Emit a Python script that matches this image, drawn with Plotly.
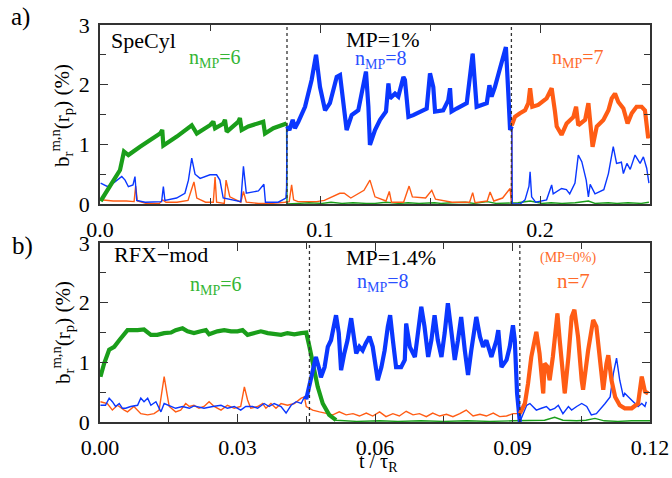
import plotly.graph_objects as go

# ---------------- data: panel a (SpeCyl) ----------------
a_green_p1_t = [0.0003,0.0045,0.0091,0.0109,0.0129,0.0182,0.0273,0.0283,0.0288,0.0349,0.0417,0.0440,0.0500,0.0515,0.0523,0.0561,0.0568,0.0576,0.0629,0.0636,0.0644,0.0674,0.0742,0.0750,0.0788,0.0848]
a_green_p1_v = [0.05,0.29,0.57,0.88,0.82,0.96,1.18,1.24,0.98,1.13,1.32,1.18,1.32,1.38,1.27,1.35,1.41,1.21,1.38,1.44,1.24,1.30,1.38,1.18,1.27,1.35]
a_green_p2_t = [0.0850,0.0900,0.0950,0.1010,0.1050,0.1100,0.1150,0.1210,0.1250,0.1300,0.1360,0.1400,0.1450,0.1520,0.1550,0.1600,0.1660,0.1700,0.1760,0.1800,0.1850,0.1900,0.1955,0.2010,0.2050,0.2100,0.2160,0.2220,0.2250,0.2310,0.2350,0.2400,0.2460,0.2495]
a_green_p2_v = [0.00,0.01,0.02,0.01,0.03,0.01,0.02,0.01,0.01,0.03,0.01,0.02,0.01,0.02,0.01,0.02,0.03,0.01,0.04,0.01,0.02,0.02,0.05,0.01,0.02,0.01,0.02,0.05,0.01,0.02,0.01,0.02,0.01,0.03]

a_blue_p1_t = [0.0003,0.0035,0.0068,0.0099,0.0114,0.0129,0.0150,0.0159,0.0167,0.0205,0.0280,0.0288,0.0295,0.0348,0.0386,0.0402,0.0417,0.0432,0.0455,0.0500,0.0530,0.0545,0.0560,0.0640,0.0652,0.0665,0.0720,0.0745,0.0752,0.0810,0.0845,0.0848]
a_blue_p1_v = [0.35,0.29,0.37,0.46,0.40,0.29,0.32,0.46,0.06,0.03,0.04,0.29,0.06,0.10,0.18,0.40,0.77,0.50,0.43,0.49,0.49,0.40,0.10,0.04,0.63,0.18,0.22,0.33,0.03,0.03,0.10,0.28]
a_blue_p2_t = [0.0850,0.0861,0.0876,0.0886,0.0902,0.0932,0.0962,0.0982,0.1000,0.1023,0.1045,0.1076,0.1091,0.1106,0.1121,0.1144,0.1174,0.1209,0.1220,0.1227,0.1250,0.1273,0.1300,0.1311,0.1318,0.1341,0.1356,0.1379,0.1386,0.1402,0.1424,0.1485,0.1500,0.1515,0.1523,0.1560,0.1583,0.1591,0.1598,0.1621,0.1667,0.1694,0.1712,0.1758,0.1770,0.1780,0.1795,0.1818,0.1845,0.1856,0.1864,0.1872]
a_blue_p2_v = [1.30,1.24,1.41,1.27,1.38,1.63,2.08,2.50,1.96,1.57,1.69,2.13,2.16,1.69,1.24,1.49,1.57,2.22,1.63,0.99,1.24,1.41,1.55,2.02,1.77,1.85,1.80,2.13,2.08,1.46,1.49,1.60,2.19,1.96,1.55,1.57,1.74,1.94,1.55,1.60,1.69,2.52,1.63,1.69,1.99,1.80,1.96,2.27,2.63,1.85,1.24,1.30]
a_blue_p3_t = [0.1874,0.1910,0.1932,0.1950,0.1955,0.1962,0.1980,0.2030,0.2053,0.2060,0.2098,0.2120,0.2135,0.2159,0.2174,0.2190,0.2210,0.2220,0.2228,0.2250,0.2290,0.2311,0.2333,0.2348,0.2370,0.2379,0.2395,0.2410,0.2432,0.2455,0.2470,0.2485,0.2495]
a_blue_p3_v = [0.00,0.00,0.07,0.30,0.54,0.12,0.03,0.07,0.32,0.17,0.26,0.24,0.17,0.35,0.82,0.71,0.40,0.12,0.33,0.17,0.24,0.51,0.96,0.68,0.70,0.51,0.68,0.58,0.82,0.68,0.79,0.60,0.35]

a_orange_p1_t = [0.0003,0.0060,0.0120,0.0155,0.0162,0.0170,0.0210,0.0270,0.0285,0.0300,0.0350,0.0400,0.0427,0.0440,0.0480,0.0515,0.0523,0.0530,0.0565,0.0573,0.0590,0.0640,0.0652,0.0665,0.0720,0.0780,0.0840,0.0860,0.0871,0.0880,0.0900,0.0985,0.1020,0.1090,0.1110,0.1140,0.1200,0.1227,0.1250,0.1300,0.1315,0.1325,0.1380,0.1405,0.1420,0.1480,0.1508,0.1525,0.1600,0.1680,0.1694,0.1705,0.1760,0.1773,0.1790,0.1830,0.1864,0.1870]
a_orange_p1_v = [0.07,0.05,0.05,0.04,0.30,0.05,0.01,0.01,0.07,0.03,0.03,0.06,0.37,0.10,0.03,0.03,0.45,0.03,0.01,0.40,0.12,0.03,0.21,0.03,0.01,0.01,0.03,0.04,0.32,0.07,0.04,0.04,0.06,0.18,0.18,0.10,0.23,0.40,0.12,0.05,0.21,0.03,0.03,0.30,0.12,0.10,0.23,0.08,0.03,0.03,0.19,0.02,0.05,0.20,0.05,0.10,0.26,0.02]
a_orange_p3_t = [0.1872,0.1886,0.1909,0.1932,0.1947,0.1955,0.1965,0.1992,0.2030,0.2053,0.2068,0.2076,0.2098,0.2121,0.2152,0.2164,0.2174,0.2205,0.2220,0.2227,0.2239,0.2258,0.2288,0.2311,0.2326,0.2341,0.2356,0.2379,0.2398,0.2417,0.2439,0.2462,0.2477,0.2492]
a_orange_p3_v = [1.32,1.46,1.52,1.57,1.69,1.94,1.63,1.66,1.77,1.94,1.55,1.30,1.16,1.35,1.46,1.63,1.32,1.41,1.69,1.46,0.96,1.30,1.41,1.57,1.77,1.85,1.71,1.60,1.35,1.52,1.63,1.63,1.57,1.10]

a_phase_bounds = [0.085, 0.187]

# ---------------- data: panel b (RFX-mod) ----------------
b_green_p1_t = [0.0001,0.0009,0.0020,0.0031,0.0042,0.0053,0.0060,0.0082,0.0096,0.0111,0.0125,0.0140,0.0155,0.0165,0.0180,0.0191,0.0205,0.0220,0.0231,0.0238,0.0256,0.0271,0.0286,0.0300,0.0311,0.0322,0.0337,0.0351,0.0366,0.0380,0.0395,0.0409,0.0424,0.0439,0.0450,0.0457,0.0464,0.0475,0.0486,0.0500,0.0515]
b_green_p1_v = [0.76,0.98,1.21,1.26,1.37,1.49,1.54,1.54,1.55,1.46,1.46,1.49,1.50,1.54,1.57,1.52,1.49,1.52,1.54,1.47,1.52,1.54,1.52,1.52,1.54,1.46,1.49,1.52,1.49,1.47,1.46,1.49,1.47,1.49,1.50,1.26,0.98,0.59,0.31,0.12,0.03]
b_green_p2_t = [0.0515,0.0560,0.0610,0.0650,0.0700,0.0750,0.0800,0.0850,0.0900,0.0940,0.0970,0.0992,0.1010,0.1040,0.1060,0.1080,0.1100,0.1130,0.1160,0.1200]
b_green_p2_v = [0.03,0.01,0.02,0.01,0.02,0.01,0.02,0.01,0.02,0.02,0.03,0.08,0.03,0.02,0.03,0.06,0.02,0.01,0.02,0.02]

b_blue_p1_t = [0.0001,0.0012,0.0020,0.0027,0.0034,0.0042,0.0049,0.0056,0.0067,0.0082,0.0089,0.0096,0.0104,0.0111,0.0122,0.0133,0.0140,0.0151,0.0165,0.0180,0.0195,0.0205,0.0227,0.0246,0.0264,0.0278,0.0293,0.0307,0.0318,0.0333,0.0344,0.0358,0.0369,0.0380,0.0395,0.0406,0.0417,0.0428,0.0439,0.0446]
b_blue_p1_v = [0.28,0.28,0.40,0.34,0.26,0.31,0.23,0.23,0.26,0.28,0.40,0.34,0.40,0.28,0.34,0.17,0.31,0.28,0.23,0.26,0.23,0.27,0.23,0.26,0.28,0.23,0.26,0.20,0.26,0.26,0.23,0.31,0.26,0.31,0.26,0.15,0.28,0.34,0.31,0.42]
b_blue_p2_t = [0.0450,0.0460,0.0468,0.0471,0.0479,0.0482,0.0490,0.0497,0.0504,0.0511,0.0515,0.0521,0.0526,0.0533,0.0540,0.0548,0.0555,0.0559,0.0566,0.0573,0.0580,0.0588,0.0595,0.0606,0.0614,0.0621,0.0628,0.0633,0.0639,0.0646,0.0657,0.0665,0.0668,0.0676,0.0687,0.0697,0.0701,0.0708,0.0716,0.0723,0.0730,0.0737,0.0745,0.0752,0.0759,0.0767,0.0774,0.0781,0.0788,0.0796,0.0803,0.0810,0.0821,0.0829,0.0836,0.0843,0.0854,0.0865,0.0869,0.0876,0.0887,0.0894,0.0901,0.0905,0.0910,0.0916]
b_blue_p2_v = [0.38,0.70,0.98,1.09,0.87,0.75,0.92,1.26,1.37,1.60,1.79,1.49,0.87,1.15,1.37,1.74,1.37,1.15,1.26,1.20,1.32,1.43,1.26,0.70,0.92,1.20,1.60,1.79,1.37,0.92,0.92,1.04,1.65,1.26,1.09,1.76,1.93,1.60,1.09,1.37,1.79,1.37,1.09,1.49,1.99,1.49,1.04,1.37,1.76,1.20,0.79,1.20,1.76,1.43,1.26,1.37,1.09,1.37,1.54,0.92,1.04,1.26,1.62,1.37,0.48,0.00]
b_blue_p3_t = [0.0916,0.0923,0.0931,0.0938,0.0945,0.0952,0.0963,0.0974,0.0982,0.0992,0.1000,0.1010,0.1022,0.1029,0.1040,0.1051,0.1062,0.1072,0.1083,0.1094,0.1102,0.1113,0.1120,0.1127,0.1134,0.1142,0.1145,0.1153,0.1160,0.1167,0.1174,0.1182,0.1189,0.1192]
b_blue_p3_v = [0.00,0.14,0.28,0.31,0.26,0.20,0.23,0.26,0.20,0.23,0.28,0.14,0.26,0.20,0.26,0.31,0.26,0.12,0.14,0.23,0.31,0.42,0.81,1.07,0.70,0.42,0.48,0.42,0.37,0.31,0.26,0.31,0.26,0.34]

b_orange_p1_t = [0.0001,0.0016,0.0027,0.0038,0.0053,0.0060,0.0074,0.0089,0.0104,0.0118,0.0129,0.0136,0.0140,0.0146,0.0151,0.0165,0.0176,0.0187,0.0195,0.0205,0.0216,0.0227,0.0238,0.0249,0.0264,0.0278,0.0293,0.0307,0.0315,0.0322,0.0329,0.0344,0.0355,0.0362,0.0373,0.0384,0.0395,0.0409,0.0424,0.0439,0.0446,0.0450,0.0464,0.0479,0.0493,0.0508,0.0522,0.0537,0.0552,0.0566,0.0581,0.0595,0.0610,0.0624,0.0639,0.0653,0.0668,0.0683,0.0697,0.0712,0.0726,0.0741,0.0756,0.0770,0.0785,0.0799,0.0814,0.0829,0.0843,0.0858,0.0872,0.0887,0.0901,0.0912]
b_orange_p1_v = [0.34,0.31,0.20,0.28,0.20,0.17,0.26,0.14,0.12,0.14,0.20,0.54,0.76,0.48,0.26,0.17,0.20,0.31,0.26,0.28,0.23,0.26,0.34,0.26,0.20,0.28,0.23,0.26,0.59,0.37,0.23,0.26,0.31,0.23,0.31,0.23,0.31,0.28,0.31,0.40,0.42,0.26,0.20,0.17,0.14,0.12,0.17,0.12,0.14,0.10,0.15,0.10,0.17,0.09,0.14,0.10,0.18,0.12,0.14,0.09,0.15,0.10,0.13,0.09,0.14,0.20,0.10,0.13,0.10,0.15,0.09,0.10,0.14,0.14]
b_orange_p3_t = [0.0916,0.0927,0.0934,0.0941,0.0952,0.0959,0.0967,0.0970,0.0976,0.0981,0.0988,0.0998,0.1003,0.1010,0.1014,0.1022,0.1029,0.1035,0.1043,0.1051,0.1054,0.1065,0.1076,0.1083,0.1091,0.1098,0.1105,0.1109,0.1116,0.1124,0.1134,0.1145,0.1160,0.1174,0.1182,0.1189,0.1196]
b_orange_p3_v = [0.14,0.31,0.65,1.09,1.51,1.15,0.48,0.98,0.93,0.70,1.09,1.82,1.37,0.70,0.48,1.09,1.76,1.88,1.43,0.70,0.54,1.20,1.71,1.60,1.09,0.54,0.98,1.12,0.70,0.42,0.28,0.23,0.23,0.31,0.76,0.51,0.48]

b_phase_bounds = [0.0457, 0.0916]

a_xticks = [0.0, 0.1, 0.2]
a_xticklabels = ["0.0", "0.1", "0.2"]
b_xticks = [0.0, 0.03, 0.06, 0.09, 0.12]
b_xticklabels = ["0.00", "0.03", "0.06", "0.09", "0.12"]
yticks = [0, 1, 2, 3]
yticklabels = ["0", "1", "2", "3"]

# ---------------- styling ----------------
W, H = 672, 478
GREEN = "#1a9e1a"
BLUE = "#0a37ff"
ORANGE = "#ff5c14"
GREEN_TXT = "#34b534"
BLUE_TXT = "#2a50ff"
ORANGE_TXT = "#ff6a2a"
FONT = "Liberation Serif"
THICK = 4.2
THIN = 1.4


def px(x):
    return x / W


def py(y):
    return 1 - y / H


fig = go.Figure()


def add_line(t, v, color, width, xa, ya):
    fig.add_trace(go.Scatter(x=t, y=v, mode="lines", xaxis=xa, yaxis=ya,
                             line=dict(color=color, width=width),
                             showlegend=False, hoverinfo="skip"))


# panel a: thin (full series) first, thick on top
add_line(a_green_p1_t + a_green_p2_t, a_green_p1_v + a_green_p2_v, GREEN, THIN, "x", "y")
add_line(a_orange_p1_t + a_orange_p3_t, a_orange_p1_v + a_orange_p3_v, ORANGE, THIN, "x", "y")
add_line(a_blue_p1_t + a_blue_p2_t + a_blue_p3_t, a_blue_p1_v + a_blue_p2_v + a_blue_p3_v, BLUE, THIN, "x", "y")
add_line(a_green_p1_t, a_green_p1_v, GREEN, THICK, "x", "y")
add_line(a_blue_p2_t, a_blue_p2_v, BLUE, THICK, "x", "y")
add_line(a_orange_p3_t, a_orange_p3_v, ORANGE, THICK, "x", "y")

# panel b
add_line(b_green_p1_t + b_green_p2_t, b_green_p1_v + b_green_p2_v, GREEN, THIN, "x2", "y2")
add_line(b_orange_p1_t + b_orange_p3_t, b_orange_p1_v + b_orange_p3_v, ORANGE, THIN, "x2", "y2")
add_line(b_blue_p1_t + b_blue_p2_t + b_blue_p3_t, b_blue_p1_v + b_blue_p2_v + b_blue_p3_v, BLUE, THIN, "x2", "y2")
add_line(b_green_p1_t, b_green_p1_v, GREEN, THICK, "x2", "y2")
add_line(b_blue_p2_t, b_blue_p2_v, BLUE, THICK, "x2", "y2")
add_line(b_orange_p3_t, b_orange_p3_v, ORANGE, THICK, "x2", "y2")

# phase boundaries
for xb in a_phase_bounds:
    fig.add_shape(type="line", xref="x", yref="y domain", x0=xb, x1=xb, y0=0, y1=1,
                  line=dict(color="#333333", width=1.3, dash="dot"))
for xb in b_phase_bounds:
    fig.add_shape(type="line", xref="x2", yref="y2 domain", x0=xb, x1=xb, y0=0, y1=1,
                  line=dict(color="#333333", width=1.3, dash="dot"))

tickfont = dict(family=FONT, size=22, color="black")
common = dict(showgrid=False, zeroline=False, showline=True, linecolor="#333333", linewidth=1.5,
              mirror="ticks", ticks="inside", ticklen=8, tickcolor="#333333", tickwidth=1.2,
              tickfont=tickfont, automargin=False)

xdom = [px(100), px(650)]
fig.update_layout(
    width=W, height=H, margin=dict(l=0, r=0, t=0, b=0, autoexpand=False),
    paper_bgcolor="white", plot_bgcolor="white",
    xaxis=dict(domain=xdom, range=[0, 0.25], anchor="y", tickvals=a_xticks, ticktext=a_xticklabels,
               minor=dict(dtick=0.05, tick0=0, ticks="inside", ticklen=6, tickcolor="#333333"),
               ticklabelstandoff=5, **common),
    yaxis=dict(domain=[py(204), py(25)], range=[0, 3], anchor="x", tickvals=yticks, ticktext=yticklabels,
               minor=dict(dtick=0.5, tick0=0, ticks="inside", ticklen=6, tickcolor="#333333"),
               ticklabelstandoff=4, **common),
    xaxis2=dict(domain=xdom, range=[0, 0.12], anchor="y2", tickvals=b_xticks, ticktext=b_xticklabels,
                minor=dict(dtick=0.015, tick0=0, ticks="inside", ticklen=6, tickcolor="#333333"),
                ticklabelstandoff=5, **common),
    yaxis2=dict(domain=[py(422), py(243)], range=[0, 3], anchor="x2", tickvals=yticks, ticktext=yticklabels,
                minor=dict(dtick=0.5, tick0=0, ticks="inside", ticklen=6, tickcolor="#333333"),
                ticklabelstandoff=4, **common),
)


def label(x, y, text, color="black", size=21, angle=0):
    fig.add_annotation(x=px(x), y=py(y), xref="paper", yref="paper", text=text, showarrow=False,
                       font=dict(family=FONT, size=size, color=color), textangle=angle,
                       xanchor="center", yanchor="middle")


ylab = "b<sub>r</sub><sup>m,n</sup>(r<sub>p</sub>) (%)"
label(20, 17, "a)", size=25)
label(22, 246, "b)", size=25)
label(62, 116, ylab, size=21, angle=-90)
label(62, 333, ylab, size=21, angle=-90)
label(143, 41, "SpeCyl", size=22)
label(215, 58, "n<sub>MP</sub>=6", GREEN_TXT, 20)
label(383, 39, "MP=1%", size=22)
label(381, 59, "n<sub>MP</sub>=8", BLUE_TXT, 20)
label(578, 58, "n<sub>MP</sub>=7", ORANGE_TXT, 20)
label(161, 254, "RFX\u2212mod", size=22)
label(216, 285, "n<sub>MP</sub>=6", GREEN_TXT, 20)
label(391, 257, "MP=1.4%", size=22)
label(383, 282, "n<sub>MP</sub>=8", BLUE_TXT, 20)
label(568, 258, "(MP=0%)", ORANGE_TXT, 14)
label(573, 281, "n=7", ORANGE_TXT, 21)
label(378, 462, "t / \u03c4<sub>R</sub>", size=20)

fig.write_html("out.html")
